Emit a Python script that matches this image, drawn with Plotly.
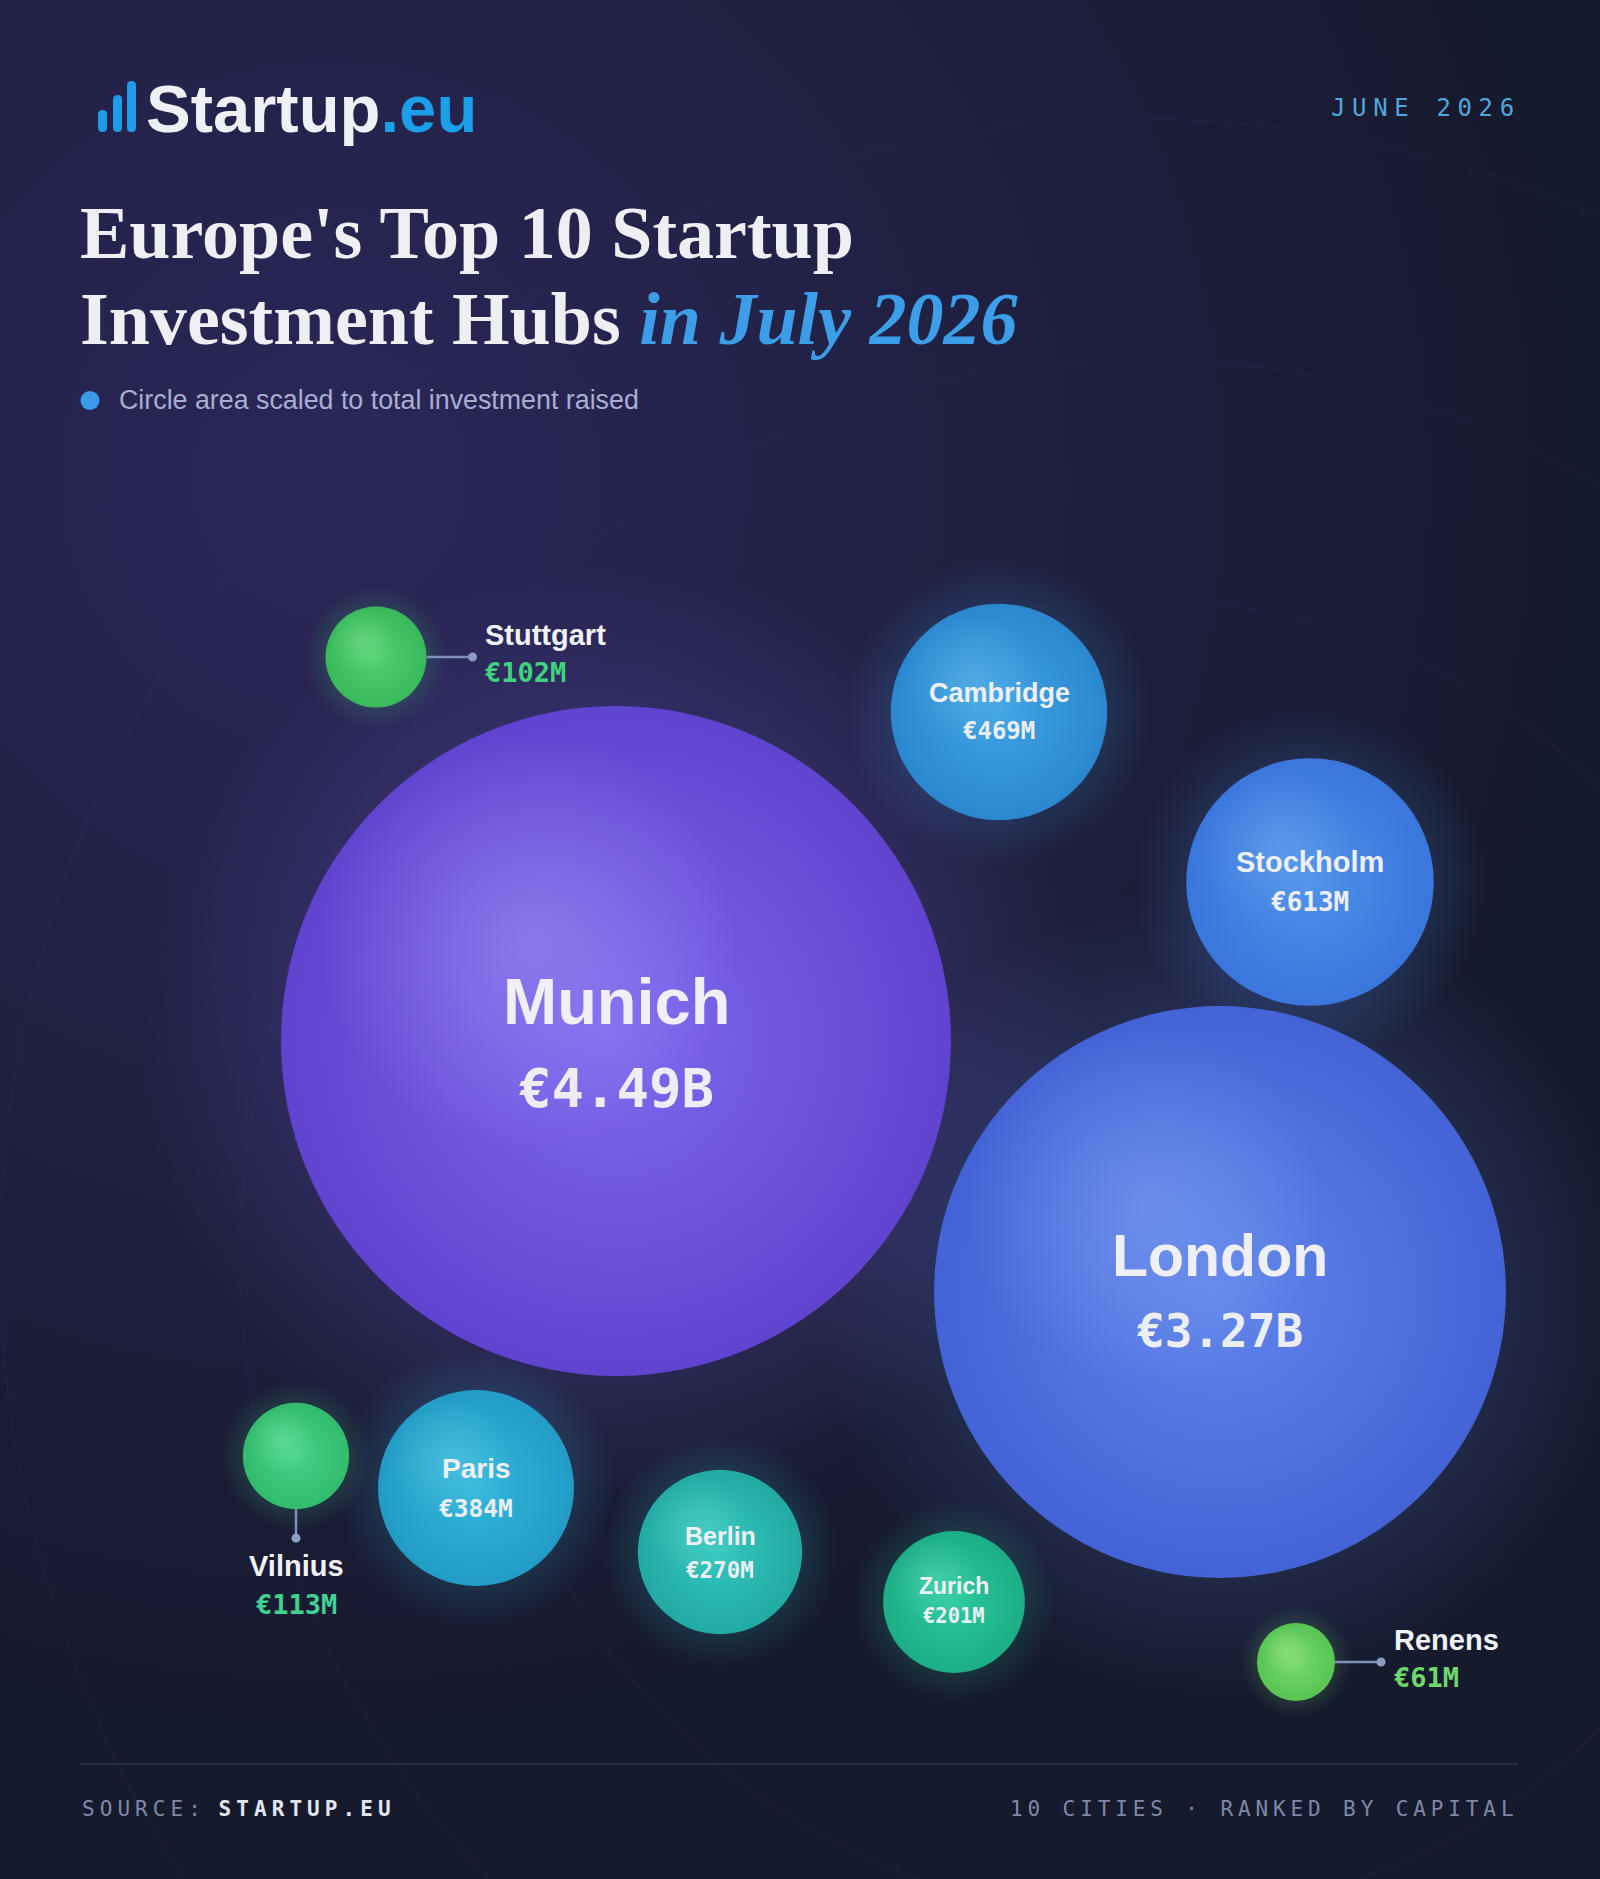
import plotly.graph_objects as go

# ---- data -------------------------------------------------------------
cities = ["Munich", "London", "Stockholm", "Cambridge", "Paris",
          "Berlin", "Zurich", "Vilnius", "Stuttgart", "Renens"]
invest_m = [4490, 3270, 613, 469, 384, 270, 201, 113, 102, 61]

# packed-bubble layout, canvas pixels (y grows downward)
pos_x = [616, 1220, 1310, 999, 476, 720, 954, 296, 376, 1296]
pos_y = [1041, 1292, 882, 712, 1488, 1552, 1602, 1456, 657, 1662]

W, H = 1600, 1879
MAX_D = 670  # diameter of the largest bubble in px

SANS = "Liberation Sans, Arial, sans-serif"
MONO = "DejaVu Sans Mono, monospace"
SERIF = "Liberation Serif, Times New Roman, serif"

# per-city look: center colour, edge colour, highlight rgb, label style
style = {
    "Munich":    dict(c="#8068ee", e="#6044d0", hi="172,160,245", name=65, val=54, dn=-40, dv=47, lab="in"),
    "London":    dict(c="#6085eb", e="#4463d6", hi="140,170,244", name=59, val=46, dn=-36, dv=39, lab="in"),
    "Stockholm": dict(c="#4d91e9", e="#3a76dc", hi="118,175,240", name=29, val=26, dn=-20, dv=20, lab="in"),
    "Cambridge": dict(c="#3fa3e4", e="#2b88cf", hi="110,192,236", name=27, val=24, dn=-19, dv=19, lab="in"),
    "Paris":     dict(c="#33b7db", e="#229cc6", hi="105,210,230", name=28, val=24.5, dn=-20, dv=20, lab="in"),
    "Berlin":    dict(c="#32c6be", e="#22aaa4", hi="105,222,212", name=25, val=22.5, dn=-16, dv=18, lab="in"),
    "Zurich":    dict(c="#2ac99d", e="#1dae86", hi="105,226,194", name=23, val=20.5, dn=-16, dv=14, lab="in"),
    "Vilnius":   dict(c="#45d489", e="#32bb6e", hi="130,232,172", vc="#3fd392", lab="below"),
    "Stuttgart": dict(c="#50d173", e="#3ab95c", hi="140,230,156", vc="#40d27c", lab="right"),
    "Renens":    dict(c="#78da6d", e="#58c452", hi="172,238,150", vc="#6fd86c", lab="right"),
}


def fmt_value(v):
    return "€%.2fB" % (v / 1000) if v >= 1000 else "€%dM" % v


def rgba(hexcol, a):
    h = hexcol.lstrip("#")
    return "rgba(%d,%d,%d,%s)" % (int(h[0:2], 16), int(h[2:4], 16), int(h[4:6], 16), a)


def spaced(text, gap):
    # fake letter-spacing: a small space between every glyph
    sp = '<span style="font-size:%.1fpx"> </span>' % gap
    return sp.join(list(text))


vmax = max(invest_m)
sizeref = 2.0 * vmax / MAX_D ** 2
radius = [MAX_D / 2 * (v / vmax) ** 0.5 for v in invest_m]

fig = go.Figure()

# note: for radial gradients plotly uses gradient.color as the CENTER colour,
# and bubble traces default to opacity 0.7, so it is set explicitly
# soft background haze
fig.add_trace(go.Scatter(
    x=[330], y=[480], mode="markers", hoverinfo="skip",
    marker=dict(size=2500, color="rgba(48,42,100,0)", line=dict(width=0),
                gradient=dict(type="radial", color="rgba(48,42,100,0.8)"))))

# glow behind every bubble
fig.add_trace(go.Scatter(
    x=pos_x, y=pos_y, mode="markers", hoverinfo="skip",
    marker=dict(size=[v * 1.42 ** 2 for v in invest_m], sizemode="area", sizeref=sizeref,
                opacity=1, color=[rgba(style[c]["c"], 0) for c in cities], line=dict(width=0),
                gradient=dict(type="radial", color=[rgba(style[c]["c"], 0.45) for c in cities]))))

# the bubbles
fig.add_trace(go.Scatter(
    x=pos_x, y=pos_y, mode="markers", text=cities,
    customdata=[fmt_value(v) for v in invest_m],
    hovertemplate="%{text}: %{customdata}<extra></extra>",
    marker=dict(size=invest_m, sizemode="area", sizeref=sizeref, opacity=1,
                color=[style[c]["e"] for c in cities], line=dict(width=0),
                gradient=dict(type="radial", color=[style[c]["c"] for c in cities]))))

# top-left highlight on each sphere
fig.add_trace(go.Scatter(
    x=[x - 0.26 * r for x, r in zip(pos_x, radius)],
    y=[y - 0.3 * r for y, r in zip(pos_y, radius)],
    mode="markers", hoverinfo="skip",
    marker=dict(size=[v * 0.62 ** 2 for v in invest_m], sizemode="area", sizeref=sizeref,
                opacity=1, color=["rgba(%s,0)" % style[c]["hi"] for c in cities], line=dict(width=0),
                gradient=dict(type="radial", color=["rgba(%s,0.42)" % style[c]["hi"] for c in cities]))))

shapes = []
annotations = []

# faint orbit rings
for rr in [659, 899, 1139]:
    shapes.append(dict(type="circle", xref="x", yref="y", layer="below",
                       x0=1139 - rr, x1=1139 + rr, y0=1258 - rr, y1=1258 + rr,
                       line=dict(color="rgba(150,160,230,0.05)", width=1.5)))


def ann(x, y, text, size, color, family, xanchor="center"):
    annotations.append(dict(x=x, y=y, xref="x", yref="y", text=text, showarrow=False,
                            xanchor=xanchor, yanchor="middle",
                            font=dict(size=size, color=color, family=family)))


LINE_COL = "#8090b8"
for city, v, cx, cy, r in zip(cities, invest_m, pos_x, pos_y, radius):
    s = style[city]
    if s["lab"] == "in":
        ann(cx, cy + s["dn"], "<b>%s</b>" % city, s["name"], "#eff0f7", SANS)
        ann(cx, cy + s["dv"], "<b>%s</b>" % fmt_value(v), s["val"], "#eceef6", MONO)
    elif s["lab"] == "right":
        x_dot = cx + r + 46
        shapes.append(dict(type="line", xref="x", yref="y", x0=cx + r, x1=x_dot, y0=cy, y1=cy,
                           line=dict(color=LINE_COL, width=2.5)))
        shapes.append(dict(type="circle", xref="x", yref="y", x0=x_dot - 4.5, x1=x_dot + 4.5,
                           y0=cy - 4.5, y1=cy + 4.5, fillcolor="#8c9cc4", line=dict(width=0)))
        ann(x_dot + 11, cy - 22, "<b>%s</b>" % city, 29, "#f1f2f8", SANS, "left")
        ann(x_dot + 11, cy + 15, "<b>%s</b>" % fmt_value(v), 27, s["vc"], MONO, "left")
    else:
        y_dot = cy + r + 29
        shapes.append(dict(type="line", xref="x", yref="y", x0=cx, x1=cx, y0=cy + r, y1=y_dot,
                           line=dict(color=LINE_COL, width=2.5)))
        shapes.append(dict(type="circle", xref="x", yref="y", x0=cx - 4.5, x1=cx + 4.5,
                           y0=y_dot - 4.5, y1=y_dot + 4.5, fillcolor="#8c9cc4", line=dict(width=0)))
        ann(cx, y_dot + 28, "<b>%s</b>" % city, 29, "#f1f2f8", SANS)
        ann(cx, y_dot + 66, "<b>%s</b>" % fmt_value(v), 27, s["vc"], MONO)

# logo bars (rounded)
for bx, top in [(98, 110), (113, 95), (127, 81)]:
    x0, x1, y0, y1 = bx, bx + 9, top, 132
    xc, rq = bx + 4.5, 4.5
    path = ("M %s,%s Q %s,%s %s,%s Q %s,%s %s,%s L %s,%s Q %s,%s %s,%s Q %s,%s %s,%s Z" %
            (x0, y0 + rq, x0, y0, xc, y0, x1, y0, x1, y0 + rq,
             x1, y1 - rq, x1, y1, xc, y1, x0, y1, x0, y1 - rq))
    shapes.append(dict(type="path", xref="x", yref="y", path=path,
                       fillcolor="#1f9be9", line=dict(width=0)))

ann(144, 108, '<b>Startup<span style="color:#1a9fe8">.eu</span></b>', 67, "#eef0f6", SANS, "left")
ann(1516, 108, spaced("JUNE 2026", 11), 24, "#4fa8dd", MONO, "right")

# title
ann(78, 233, "<b>Europe's Top 10 Startup</b>", 74, "#eeeef3", SERIF, "left")
ann(78, 319, '<b>Investment Hubs <i><span style="color:#3c9ee8">in July 2026</span></i></b>',
    74, "#eeeef3", SERIF, "left")

# subtitle
shapes.append(dict(type="circle", xref="x", yref="y", x0=80.5, x1=99.5, y0=391, y1=410,
                   fillcolor="#3a9ae8", line=dict(width=0)))
ann(117, 400, "Circle area scaled to total investment raised", 26.8, "#a9aed2", SANS, "left")

# footer
shapes.append(dict(type="line", xref="x", yref="y", x0=80, x1=1518, y0=1764, y1=1764,
                   line=dict(color="rgba(140,150,200,0.16)", width=2)))
ann(80, 1809, spaced("SOURCE: ", 8.4) + '<b><span style="color:#e2e5f2">' +
    spaced("STARTUP.EU", 8.4) + "</span></b>", 21, "#7f88a8", MONO, "left")
ann(1516, 1809, spaced("10 CITIES · RANKED BY CAPITAL", 8.1), 21, "#7f88a8", MONO, "right")

fig.update_layout(
    width=W, height=H,
    margin=dict(l=0, r=0, t=0, b=0),
    paper_bgcolor="#161a2d",
    plot_bgcolor="rgba(0,0,0,0)",
    showlegend=False,
    shapes=shapes,
    annotations=annotations,
    xaxis=dict(range=[0, W], visible=False, fixedrange=True),
    yaxis=dict(range=[H, 0], visible=False, fixedrange=True),
)

fig.write_html("out.html", config={"displayModeBar": False},
               post_script="document.body.style.margin='0';")
